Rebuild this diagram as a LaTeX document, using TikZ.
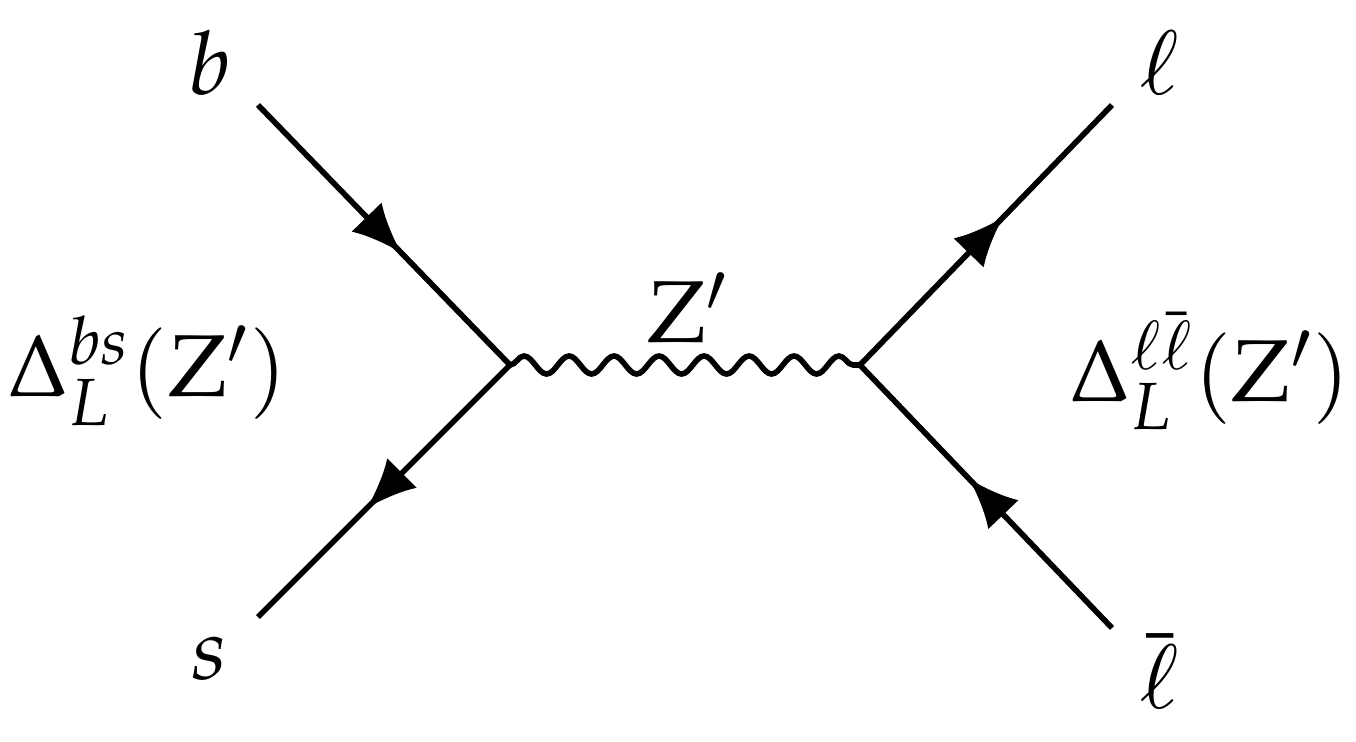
\documentclass[tikz,border=0pt]{standalone}
\usepackage{amsmath}
\usepackage{mathpazo}
\usetikzlibrary{arrows.meta,decorations.markings,decorations.pathmorphing}

\tikzset{
	fermion/.style={line width=1.6pt,postaction={decorate},
		decoration={markings,mark=at position 0.57 with {\arrow{Latex[length=0.5cm,width=0.42cm]}}}},
	boson/.style={line width=1.6pt,decorate,
		decoration={snake,amplitude=0.09cm,segment length=0.45cm}},
	lbl/.style={font=\fontsize{25}{30}\selectfont}
}

\begin{document}
\begin{tikzpicture}
	\useasboundingbox (0,0) rectangle (13.56,7.41);
	
	%VERTICES
	\coordinate (vl) at (5.10,3.76);
	\coordinate (vr) at (8.60,3.76);
	\coordinate (b) at (2.58,6.36);
	\coordinate (s) at (2.58,1.24);
	\coordinate (l) at (11.12,6.36);
	\coordinate (lb) at (11.12,1.13);
	
	%LINES
	\draw[fermion] (b)--(vl);
	\draw[fermion] (vl)--(s);
	\draw[fermion] (vr)--(l);
	\draw[fermion] (lb)--(vr);
	\draw[boson] (vl)--(vr);
	
	%LABELS
	\node[lbl] (nb) at (2.10,6.78) {$b$};
	\node[lbl] (ns) at (2.10,0.82) {$s$};
	\node[lbl] (nl) at (11.60,6.78) {$\ell$};
	\node[lbl] (nlb) at (11.60,0.70) {$\bar{\ell}$};
	\node[lbl] (nz) at (6.88,4.33) {$\mathrm{Z}'$};
	\node[lbl] (dl) at (1.47,3.70) {$\Delta_L^{bs}(\mathrm{Z}')$};
	\node[lbl] (dr) at (12.10,3.70) {$\Delta_L^{\ell\bar{\ell}}(\mathrm{Z}')$};
\end{tikzpicture}
\end{document}
